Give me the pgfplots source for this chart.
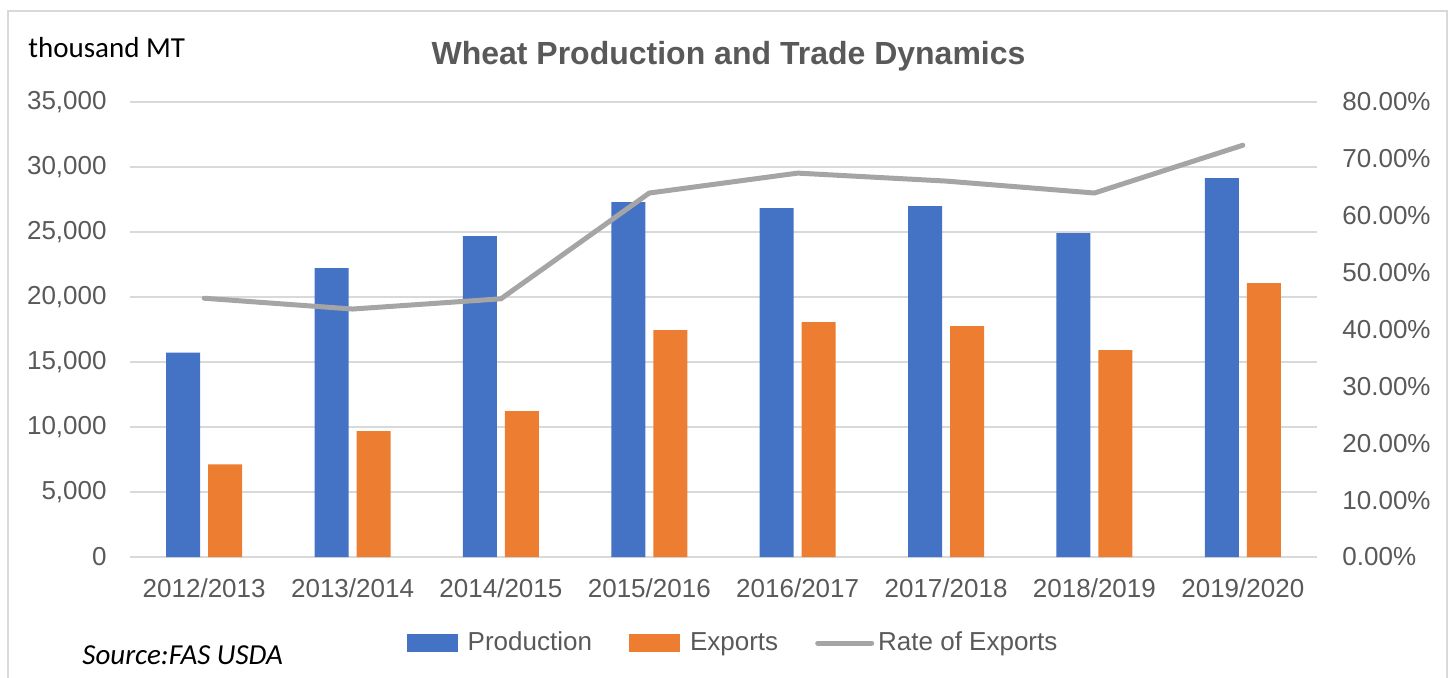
\documentclass[border=0pt]{standalone}
\usepackage{pgfplots}
\pgfplotsset{compat=1.18}
\usepackage{fontspec}
\setmainfont{Liberation Sans}
\newfontfamily\calibri{Carlito}
\definecolor{barblue}{HTML}{4472C4}
\definecolor{barorange}{HTML}{ED7D31}
\definecolor{linegray}{HTML}{A5A5A5}
\definecolor{gridgray}{HTML}{D9D9D9}
\definecolor{txtgray}{HTML}{595959}
\pgfplotsset{
  mybarlegend/.style={legend image code/.code={\fill[##1] (0pt,-4.5pt) rectangle (25.5pt,4.5pt); \path (28.5pt,0pt);}},
  mylinelegend/.style={legend image code/.code={\draw[##1] (0pt,0pt) -- (27pt,0pt);}},
}
\pgfplotstableread{
x prod exp rate
0 15715 7131 45.5
1 22231 9692 43.6
2 24692 11231 45.4
3 27308 17462 64.0
4 26846 18077 67.5
5 27000 17769 66.1
6 24923 15923 64.0
7 29154 21077 72.4
}\wheatdata
\begin{document}
\begin{tikzpicture}[x=1pt,y=1pt]
\path[use as bounding box] (0,0) rectangle (725,338.5);
\draw[gridgray, line width=1pt] (4,-2) -- (4,333) -- (723.5,333) -- (723.5,-2);
\begin{axis}[
  at={(65pt,60pt)}, anchor=south west, scale only axis,
  width=593.5pt, height=227.5pt,
  xmin=-0.5, xmax=7.5, ymin=0, ymax=35000,
  scaled y ticks=false,
  xtick={0,...,7},
  xticklabels={2012/2013,2013/2014,2014/2015,2015/2016,2016/2017,2017/2018,2018/2019,2019/2020},
  ytick={0,5000,10000,15000,20000,25000,30000,35000},
  yticklabels={0,{5,000},{10,000},{15,000},{20,000},{25,000},{30,000},{35,000}},
  axis line style={draw=none}, major tick length=0pt,
  ymajorgrids, grid style={draw=gridgray, line width=0.75pt},
  tick label style={font=\fontsize{13}{15}\selectfont, text=txtgray},
  yticklabel style={anchor=east, inner sep=0pt, xshift=-11.5pt},
  xticklabel style={anchor=north, inner sep=0pt, yshift=-10.5pt},
  legend columns=3,
  legend style={at={(0.5089,-0.189)}, anchor=center, draw=none, fill=none,
    font=\fontsize{13}{15}\selectfont, text=txtgray,
    /tikz/every even column/.append style={column sep=16.5pt}},
]
\addplot[ybar, bar width=17pt, bar shift=-10.5pt, fill=barblue, draw=none, mybarlegend] table[x=x, y=prod] {\wheatdata};
\addplot[ybar, bar width=17pt, bar shift=10.5pt, fill=barorange, draw=none, mybarlegend] table[x=x, y=exp] {\wheatdata};
\addlegendimage{linegray, line width=2.5pt, line cap=round, mylinelegend}
\legend{Production, Exports, Rate of Exports}
\end{axis}
\begin{axis}[
  at={(65pt,60pt)}, anchor=south west, scale only axis,
  width=593.5pt, height=227.5pt,
  xmin=-0.5, xmax=7.5, ymin=0, ymax=80,
  axis y line*=right, axis x line=none,
  axis line style={draw=none}, major tick length=0pt,
  ytick={0,10,20,30,40,50,60,70,80},
  yticklabels={0.00\%,10.00\%,20.00\%,30.00\%,40.00\%,50.00\%,60.00\%,70.00\%,80.00\%},
  tick label style={font=\fontsize{13}{15}\selectfont, text=txtgray},
  yticklabel style={anchor=west, inner sep=0pt, xshift=12.5pt},
]
\addplot[linegray, line width=2.5pt, line cap=round, line join=round] table[x=x, y=rate] {\wheatdata};
\end{axis}
\node[anchor=base, inner sep=0pt, font=\bfseries\fontsize{16}{19}\selectfont, text=txtgray] at (364.25,306.5) {Wheat Production and Trade Dynamics};
\node[anchor=base west, inner sep=0pt, font=\calibri\fontsize{14.5}{17}\selectfont] at (14,310) {thousand MT};
\node[anchor=base west, inner sep=0pt, font=\calibri\itshape\fontsize{14.5}{17}\selectfont] at (41,6.5) {Source:FAS USDA};
\end{tikzpicture}
\end{document}
